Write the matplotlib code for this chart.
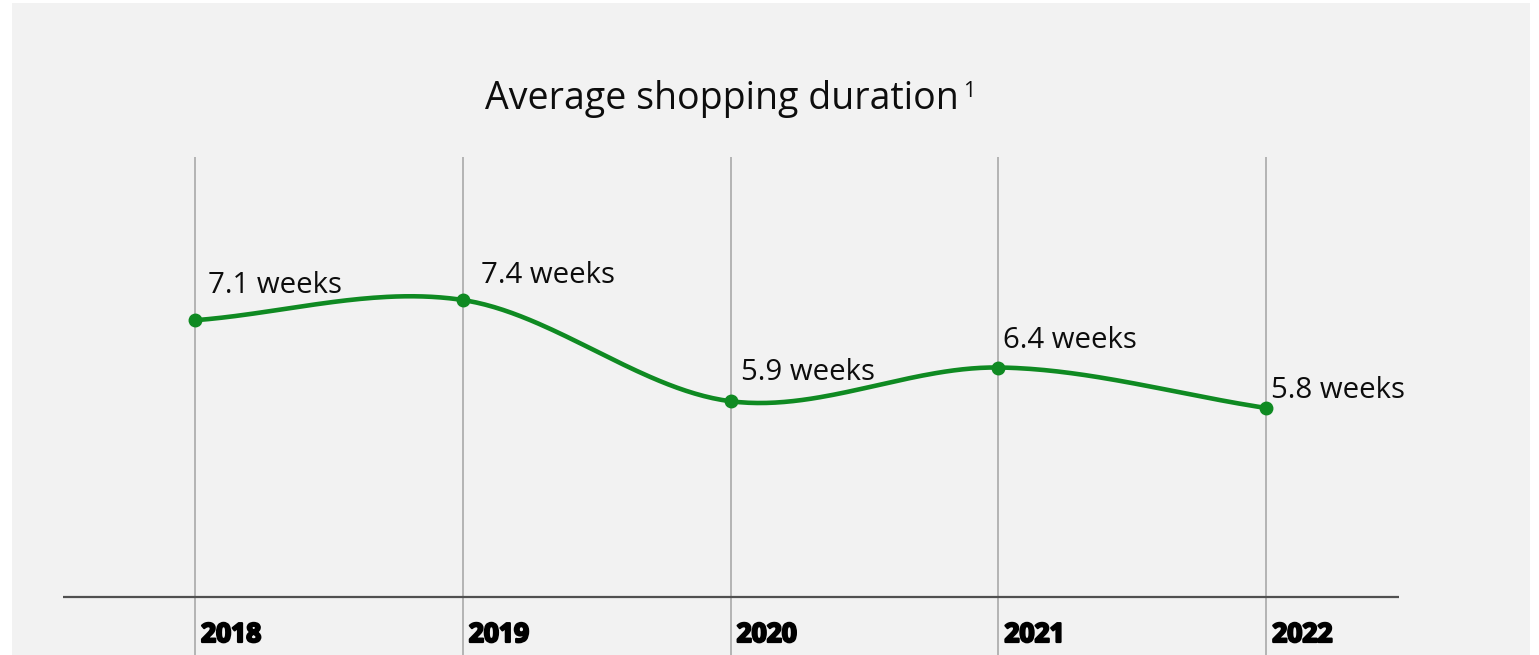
import numpy as np
import matplotlib
matplotlib.use("Agg")
import matplotlib.pyplot as plt
import matplotlib.patheffects as pe
from matplotlib.patches import Rectangle

# Chart data
years = ["2018", "2019", "2020", "2021", "2022"]
durations = [7.1, 7.4, 5.9, 6.4, 5.8]
value_labels = ["7.1 weeks", "7.4 weeks", "5.9 weeks", "6.4 weeks", "5.8 weeks"]
title_text = "Average shopping duration"
footnote_mark = "1"

# Label placement (pixel offsets from each point: right, up)
label_offsets_px = [(13, 27), (18, 17), (10, 21), (5, 19), (5, 10)]

W, H, DPI = 1539, 655, 100
GREEN = "#0f8a22"
PANEL = "#f2f2f2"
TEXT = "#0d0d0d"

plt.rcParams["font.family"] = ["Open Sans", "DejaVu Sans"]

fig = plt.figure(figsize=(W / DPI, H / DPI), dpi=DPI, facecolor="white")
fig.patches.append(Rectangle((12 / W, 0), (1530 - 12) / W, (H - 3) / H,
                             transform=fig.transFigure, facecolor=PANEL,
                             edgecolor="none", zorder=-10))

ax = fig.add_axes([0, 0, 1, 1])
ax.set_facecolor("none")
ax.axis("off")
ax.set_zorder(1)

# x: category index -> pixel 195 + step*i ; y: value -> pixel 408 - (v-5.8)*67.5
step = 267.8
ax.set_xlim(-195 / step, (W - 195) / step)
ppu = 67.5
ax.set_ylim(5.8 - (H - 408) / ppu, 5.8 + 408 / ppu)

x = np.arange(len(years))
y = np.array(durations, dtype=float)

# vertical guides and baseline
ymin, _ = ax.get_ylim()
ax.vlines(x, ymin, 9.52, colors="#b4b4b4", linewidth=1.4, zorder=1)
ax.hlines(3.0, -132 / step, 1204 / step, colors="#505050", linewidth=1.6, zorder=2)

# smooth Catmull-Rom curve through the data points
def catmull_rom(xs, ys, n=60):
    xs = np.asarray(xs, float)
    ys = np.asarray(ys, float)
    m = np.zeros_like(ys)
    m[1:-1] = (ys[2:] - ys[:-2]) / (xs[2:] - xs[:-2])
    m[0] = (ys[1] - ys[0]) / (xs[1] - xs[0])
    m[-1] = (ys[-1] - ys[-2]) / (xs[-1] - xs[-2])
    px, py = [], []
    for i in range(len(xs) - 1):
        t = np.linspace(0, 1, n, endpoint=(i == len(xs) - 2))
        h = xs[i + 1] - xs[i]
        h00 = 2 * t**3 - 3 * t**2 + 1
        h10 = t**3 - 2 * t**2 + t
        h01 = -2 * t**3 + 3 * t**2
        h11 = t**3 - t**2
        px.append(xs[i] + t * h)
        py.append(h00 * ys[i] + h10 * h * m[i] + h01 * ys[i + 1] + h11 * h * m[i + 1])
    return np.concatenate(px), np.concatenate(py)

cx, cy = catmull_rom(x, y)
ax.plot(cx, cy, color=GREEN, linewidth=3.3, solid_capstyle="round", zorder=3)
ax.plot(x, y, "o", color=GREEN, markersize=9, zorder=4)

# value labels
for xi, yi, lab, (dx, dy) in zip(x, y, value_labels, label_offsets_px):
    ax.annotate(lab, (xi, yi), xytext=(dx * 72 / DPI, dy * 72 / DPI),
                textcoords="offset points", ha="left", va="baseline",
                fontsize=21.2, color=TEXT, zorder=5)

# year labels below the baseline (extra-heavy look via a thin outline)
for xi, yr in zip(x, years):
    ax.annotate(yr, (xi, 3.0), xytext=(6 * 72 / DPI, -45 * 72 / DPI),
                textcoords="offset points", ha="left", va="baseline",
                fontsize=19, fontweight="bold", color="black", zorder=5,
                path_effects=[pe.Stroke(linewidth=1.6, foreground="black"), pe.Normal()])

# title with footnote marker
t = fig.text(485 / W, 1 - 109 / H, title_text, ha="left", va="baseline",
             fontsize=27.0, color=TEXT)
fig.canvas.draw()
bb = t.get_window_extent()
fig.text((bb.x1 + 4) / W, 1 - 97 / H, footnote_mark, ha="left", va="baseline",
         fontsize=15.5, color=TEXT)

fig.savefig("out.png", dpi=DPI, facecolor="white")
